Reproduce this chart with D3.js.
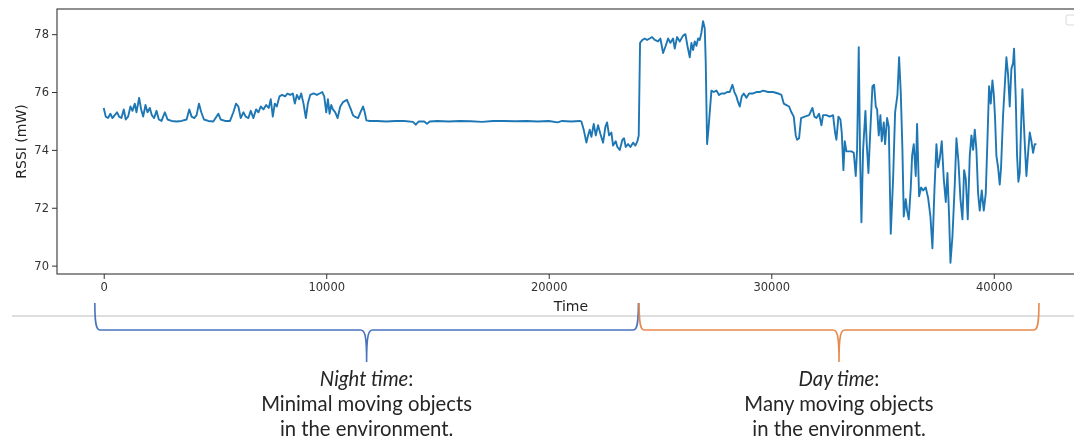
<!DOCTYPE html>
<html>
<head>
<meta charset="utf-8">
<script src="https://cdn.jsdelivr.net/npm/d3@7"></script>
<style>
  html, body { margin: 0; padding: 0; background: #fff; }
  svg { display: block; }
</style>
</head>
<body>
<svg id="chart" width="1074" height="443"></svg>
<script>
// RSSI readings over one recording session (time index, RSSI in mW)
const timeSteps = [
  0, 90, 195, 300, 390, 495, 600, 691, 796, 901, 991, 1096, 1201, 1291, 1396, 1471, 1592, 1682, 1772, 1877,
  1967, 2072, 2162, 2267, 2372, 2477, 2598, 2748, 2868, 3048, 3273, 3498, 3724, 3844, 3949, 4069, 4174, 4279,
  4384, 4505, 4700, 4925, 5150, 5255, 5450, 5676, 5826, 5946, 6051, 6156, 6276, 6381, 6502, 6607, 6727, 6847,
  6952, 7057, 7177, 7297, 7417, 7508, 7598, 7688, 7778, 7898, 8018, 8153, 8258, 8378, 8498, 8589, 8679, 8784,
  8874, 8979, 9084, 9174, 9279, 9429, 9580, 9700, 9820, 9910, 10000, 10075, 10150, 10225, 10300, 10405, 10511,
  10631, 10751, 10931, 11081, 11201, 11281, 11431, 11536, 11656, 11730, 11805, 11955,
  12300, 12700, 13100, 13500, 13900, 14022, 14150, 14400, 14532, 14650, 15000, 15500, 16000, 16500, 17000,
  17500, 18000, 18500, 19000, 19500, 20000, 20400, 20600, 21000, 21393,
  21468, 21572, 21692, 21767, 21842, 21917, 22022, 22112, 22217, 22322, 22442, 22546, 22621, 22711, 22816,
  22891, 23011, 23085, 23190, 23310, 23385, 23460, 23565, 23670, 23790, 23894, 23984, 24044,
  24104, 24209, 24314, 24419, 24539, 24643, 24763, 24913, 25018, 25138, 25258, 25363, 25468, 25588, 25663,
  25768, 25887, 26037, 26142, 26232, 26337, 26412, 26487, 26562, 26637, 26712, 26786, 26861, 26936, 27011,
  27056, 27116, 27176, 27236, 27311, 27415, 27535, 27655, 27760, 27910, 28015, 28135, 28254, 28344, 28434,
  28509, 28584, 28674, 28764, 28884, 29003, 29183, 29333, 29483, 29633, 29857, 30082, 30307, 30456, 30561,
  30681, 30801, 30906, 31011, 31101, 31161, 31250, 31340, 31505, 31700, 31850, 31940, 32030, 32149, 32254,
  32329, 32479, 32629, 32778, 32868, 32928, 33018, 33108, 33168, 33243, 33303, 33378, 33498, 33603, 33708,
  33797, 33857, 33932, 33992, 34052, 34127, 34232, 34292, 34367, 34442, 34547, 34622, 34697, 34757, 34831,
  34906, 34966, 35056, 35116, 35206, 35281, 35371, 35476, 35566, 35670, 35745, 35820, 35895, 35955, 36045,
  36105, 36180, 36270, 36330, 36404, 36494, 36554, 36644, 36734, 36824, 36943, 37048, 37153, 37243, 37333,
  37423, 37498, 37573, 37663, 37753, 37843, 37918, 37993, 38053, 38142, 38247, 38322, 38412, 38502, 38592,
  38667, 38742, 38831, 38921, 38996, 39071, 39146, 39220, 39295, 39370, 39460, 39550, 39640, 39714, 39789,
  39864, 39939, 39999, 40058, 40118, 40193, 40268, 40328, 40418, 40493, 40568, 40643, 40717, 40792, 40867,
  40912, 40987, 41047, 41107, 41167, 41242, 41287, 41347, 41407, 41467, 41542, 41617, 41692, 41767, 41842, 41916
];

const rssiValues = [
  75.45, 75.15, 75.1, 75.25, 75.1, 75.2, 75.3, 75.15, 75.1, 75.4, 75.05, 75.15, 75.5, 75.35, 75.6, 75.3, 75.8, 75.4, 75.15, 75.55,
  75.3, 75.45, 75.2, 75.1, 75.35, 75.05, 75.0, 75.3, 75.05, 75.0, 74.98, 75.0, 75.05, 75.4, 75.15, 75.1, 75.2, 75.6,
  75.3, 75.05, 75.0, 74.98, 75.25, 75.05, 75.0, 75.0, 75.3, 75.6, 75.5, 75.1, 75.3, 75.15, 75.1, 75.35, 75.1, 75.4,
  75.3, 75.5, 75.4, 75.55, 75.45, 75.75, 75.15, 75.6, 75.5, 75.85, 75.9, 75.85, 75.95, 75.9, 75.95, 75.6, 75.9, 75.75,
  75.95, 75.6, 75.1, 75.6, 75.9, 75.95, 75.9, 75.95, 76.0, 75.85, 75.3, 75.75, 75.25, 75.55, 75.4, 75.3, 75.1,
  75.5, 75.65, 75.73, 75.45, 75.2, 75.15, 75.1, 75.3, 75.5, 75.3, 75.02, 75.0,
  75.0, 74.98, 75.0, 75.0, 74.97, 74.87, 74.98, 74.98, 74.9, 74.98, 75.0, 74.98, 75.0, 74.99, 74.97,
  75.0, 75.0, 74.99, 75.0, 74.98, 75.0, 74.95, 75.0, 74.98, 75.0,
  74.98, 74.7, 74.25, 74.5, 74.7, 74.45, 74.9, 74.5, 74.85, 74.55, 74.25, 74.8, 74.95, 74.5, 74.6,
  74.15, 74.3, 74.1, 74.0, 74.35, 74.4, 74.1, 74.2, 74.1, 74.25, 74.15, 74.3, 74.5,
  77.7, 77.8, 77.85, 77.8, 77.85, 77.9, 77.8, 77.75, 77.85, 77.35, 77.6, 77.85, 77.7, 77.85, 77.5,
  77.9, 77.75, 77.95, 78.0, 77.6, 77.2, 77.7, 77.45, 77.75, 77.6, 77.85, 77.8, 78.05, 78.45, 78.2,
  77.0, 74.2, 74.7, 75.3, 76.05, 76.0, 76.05, 75.9, 75.95, 75.95, 76.0, 76.0, 76.25, 76.0, 75.85,
  75.65, 75.5, 75.85, 75.95, 75.8, 75.95, 75.95, 76.0, 76.0, 76.05, 76.0, 76.0, 75.95, 75.9, 75.6,
  75.55, 75.5, 75.3, 75.15, 74.5, 74.35, 74.4, 75.1, 75.15, 75.2, 75.45, 75.15, 75.1, 75.25, 74.85,
  75.2, 75.2, 75.15, 75.2, 74.6, 74.35, 75.15, 75.05, 74.6, 73.3, 74.3, 73.95, 73.95, 73.95, 73.9,
  73.1, 74.0, 77.55, 73.8, 71.5, 74.0, 75.35, 74.2, 73.2, 74.5, 76.2, 76.25, 75.5, 75.4, 74.5,
  75.2, 74.3, 74.95, 74.2, 75.1, 74.8, 71.1, 73.0, 75.3, 75.9, 77.2, 76.0, 74.0, 71.7, 72.3,
  71.9, 71.6, 72.7, 73.8, 74.2, 73.1, 74.9, 72.4, 72.7, 72.6, 72.7, 72.35, 71.7, 70.6, 72.6,
  74.2, 73.4, 73.7, 74.3, 73.0, 72.2, 73.2, 71.7, 70.1, 71.0, 72.8, 74.4, 73.6, 72.3, 71.6,
  73.3, 73.0, 71.6, 73.8, 74.5, 74.0, 74.7, 74.0, 72.5, 71.9, 72.6, 71.9, 72.5, 74.3, 76.2,
  75.6, 76.4, 75.95, 75.1, 73.8, 73.4, 72.8, 73.4, 75.2, 76.2, 77.2, 76.6, 75.5, 76.8, 77.0,
  77.5, 75.8, 73.8, 72.9, 73.2, 75.2, 76.1, 75.0, 74.0, 73.1, 73.9, 74.6, 74.3, 73.9, 74.2, 74.2
];

const xTicks = [0, 10000, 20000, 30000, 40000];
const yTicks = [70, 72, 74, 76, 78];

// Recording phases marked under the time axis
const phaseNames = ["Night time", "Day time"];
const phaseStart = [-400, 24060];
const phaseEnd = [24030, 42030];
const phaseColors = ["#4a72bf", "#e8894d"];
const phaseNotes = [
  ["Minimal moving objects", "in the environment."],
  ["Many moving objects", "in the environment."]
];

const series = timeSteps.map((t, i) => ({ t, v: rssiValues[i] }));

const svg = d3.select("#chart");
const W = 1074, H = 443;

const plot = { left: 57, top: 9, right: 1085, bottom: 274 };

const x = d3.scaleLinear().domain([-2100, 44100]).range([plot.left, plot.right]);
const y = d3.scaleLinear().domain([69.71, 78.87]).range([plot.bottom, plot.top]);

const soft = svg.append("defs").append("filter").attr("id", "soft")
  .attr("x", "-5%").attr("y", "-5%").attr("width", "110%").attr("height", "110%");
soft.append("feGaussianBlur").attr("stdDeviation", 0.35);

const g = svg.append("g").attr("filter", "url(#soft)");

// line series
g.append("path")
  .datum(series)
  .attr("fill", "none")
  .attr("stroke", "#1f77b4")
  .attr("stroke-width", 1.9)
  .attr("stroke-linejoin", "round")
  .attr("d", d3.line().x(d => x(d.t)).y(d => y(d.v)));

// axes
const xAxis = g.append("g")
  .attr("transform", `translate(0,${plot.bottom})`)
  .call(d3.axisBottom(x).tickValues(xTicks).tickFormat(d3.format("d")).tickSize(5).tickSizeOuter(0));
const yAxis = g.append("g")
  .attr("transform", `translate(${plot.left},0)`)
  .call(d3.axisLeft(y).tickValues(yTicks).tickFormat(d3.format("d")).tickSize(5).tickSizeOuter(0));

[xAxis, yAxis].forEach(a => {
  a.select(".domain").remove();
  a.selectAll(".tick line").attr("stroke", "#333").attr("stroke-width", 1);
  a.selectAll(".tick text")
    .attr("fill", "#333")
    .style("font-family", "'DejaVu Sans', sans-serif")
    .style("font-size", "11.5px");
});
xAxis.selectAll(".tick text").attr("y", 9);
yAxis.selectAll(".tick text").attr("x", -8);

// frame
g.append("rect")
  .attr("x", plot.left).attr("y", plot.top)
  .attr("width", plot.right - plot.left).attr("height", plot.bottom - plot.top)
  .attr("fill", "none").attr("stroke", "#333").attr("stroke-width", 1.1);

// empty legend box in the corner
g.append("rect")
  .attr("x", 1066).attr("y", 15).attr("width", 16).attr("height", 10).attr("rx", 2)
  .attr("fill", "#fff").attr("stroke", "#d8d8d8").attr("stroke-width", 1);

// axis titles
g.append("text")
  .attr("x", (plot.left + plot.right) / 2).attr("y", 311)
  .attr("text-anchor", "middle")
  .attr("fill", "#222")
  .style("font-family", "'DejaVu Sans', sans-serif").style("font-size", "14px")
  .text("Time");
g.append("text")
  .attr("transform", `translate(26,${(plot.top + plot.bottom) / 2}) rotate(-90)`)
  .attr("text-anchor", "middle")
  .attr("fill", "#222")
  .style("font-family", "'DejaVu Sans', sans-serif").style("font-size", "14px")
  .text("RSSI (mW)");

// separator under the chart
g.append("line")
  .attr("x1", 12).attr("x2", W).attr("y1", 316).attr("y2", 316)
  .attr("stroke", "#bdbdbd").attr("stroke-width", 1.2);

// braces spanning each phase
const braceTop = 303, braceMid = 330, braceTip = 362;
function bracePath(x0, x1) {
  const xm = (x0 + x1) / 2;
  return `M${x0},${braceTop} C${x0},${braceMid - 8} ${x0 + 1},${braceMid} ${x0 + 5},${braceMid}` +
    ` L${xm - 6},${braceMid} C${xm - 2},${braceMid} ${xm},${braceMid + 4} ${xm},${braceTip}` +
    ` C${xm},${braceMid + 4} ${xm + 2},${braceMid} ${xm + 6},${braceMid}` +
    ` L${x1 - 5},${braceMid} C${x1 - 1},${braceMid} ${x1},${braceMid - 8} ${x1},${braceTop}`;
}

phaseNames.forEach((name, i) => {
  const x0 = x(phaseStart[i]), x1 = x(phaseEnd[i]);
  const cx = (x0 + x1) / 2;
  g.append("path")
    .attr("d", bracePath(x0, x1))
    .attr("fill", "none")
    .attr("stroke", phaseColors[i])
    .attr("stroke-width", 1.6);

  const label = g.append("text")
    .attr("text-anchor", "middle")
    .attr("fill", "#262626")
    .style("font-family", "Lato, 'Open Sans', sans-serif")
    .style("font-size", "20.3px");
  const first = label.append("tspan").attr("x", cx).attr("y", 386);
  first.append("tspan").style("font-style", "italic").text(name);
  first.append("tspan").text(":");
  phaseNotes[i].forEach((line, k) => {
    label.append("tspan").attr("x", cx).attr("y", 411 + k * 25).text(line);
  });
});
</script>
</body>
</html>
